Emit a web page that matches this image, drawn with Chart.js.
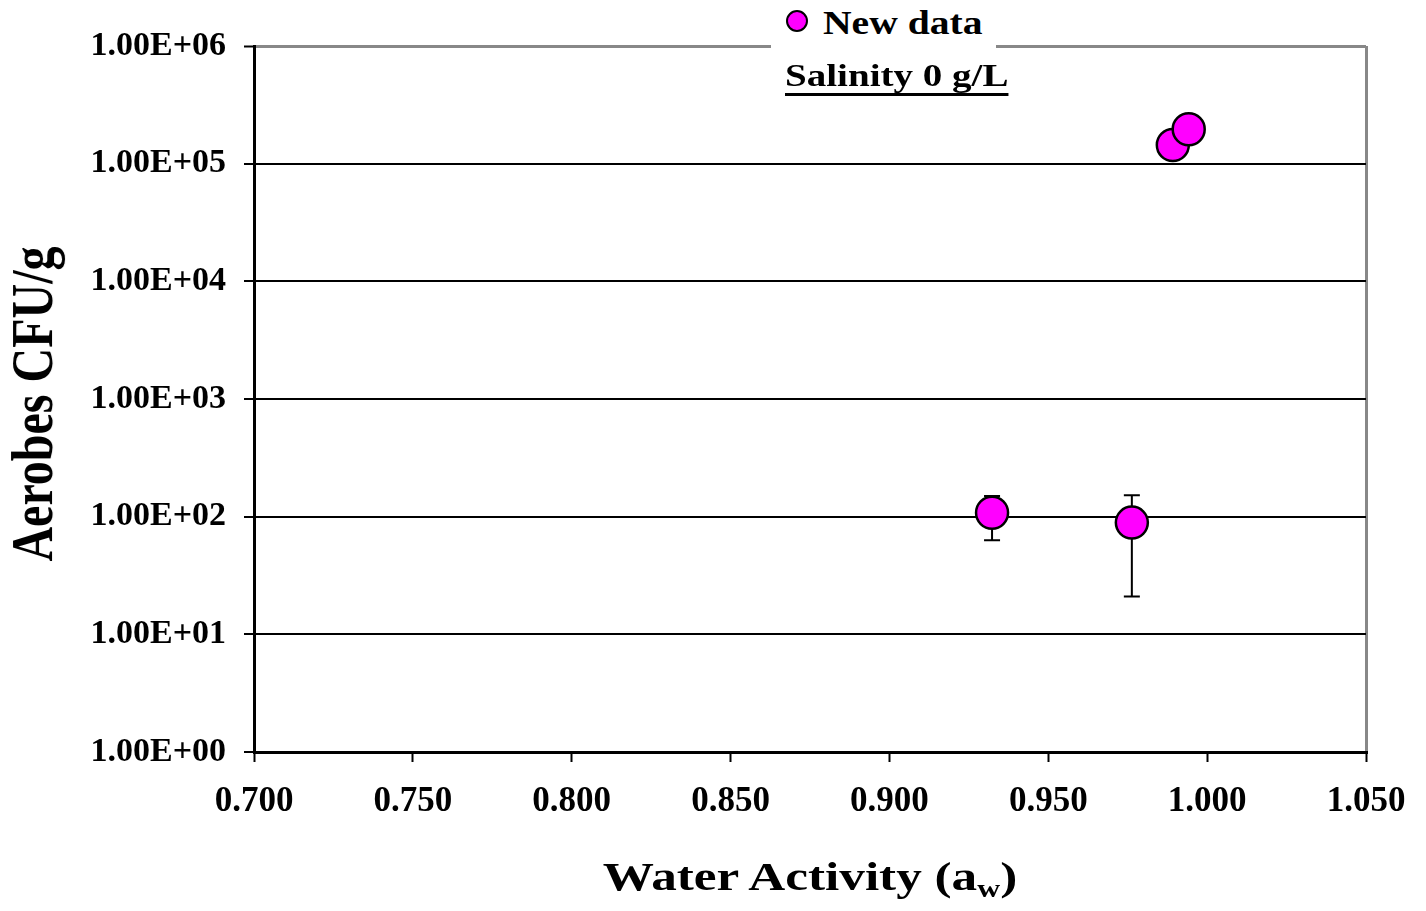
<!DOCTYPE html>
<html>
<head>
<meta charset="utf-8">
<script src="https://cdn.jsdelivr.net/npm/chart.js@4.4.1/dist/chart.umd.min.js"></script>
<style>
  body { margin: 0; background: #fff; }
  #wrap { position: relative; width: 1426px; height: 911px; }
  .lbl { position: absolute; font-family: "Liberation Serif", "Times New Roman", serif; font-weight: bold; color: #000; white-space: nowrap; }
</style>
</head>
<body>
<div id="wrap">
  <canvas id="chart"></canvas>

  <div class="lbl" style="left:-167px; top:380px; width:400px; height:48px; line-height:48px; font-size:48px; text-align:center; transform: rotate(-90deg) scaleY(1.22);">Aerobes CFU/g</div>

  <div class="lbl" style="left:310px; top:857px; width:1000px; height:40px; line-height:40px; font-size:40px; text-align:center; transform: scaleX(1.28);">Water Activity (a<sub style="font-size:0.62em; vertical-align:-0.3em; line-height:0;">w</sub>)</div>

  <div style="position:absolute; left:771px; top:0; width:225px; height:50px; background:#fff;"></div>
  <div style="position:absolute; left:786px; top:10px; width:18px; height:18px; border:2px solid #000; border-radius:50%; background:#ff00ff;"></div>
  <div class="lbl" style="left:823px; top:7px; font-size:33px; line-height:33px; transform: scaleX(1.2); transform-origin: left center;">New data</div>
  <div class="lbl" style="left:785px; top:59px; font-size:32px; line-height:32px; transform: scaleX(1.22); transform-origin: left center; text-decoration: underline; text-decoration-thickness: 3px; text-underline-offset: 7px;">Salinity 0 g/L</div>
</div>

<script>
// values
const waterActivity = [0.9323, 0.9763, 0.9892, 0.9942];
const aerobes = [108, 89, 144000, 196000];
const errLow = [63, 21, null, null];
const errHigh = [150, 152, null, null];

const xTickValues = [0.70, 0.75, 0.80, 0.85, 0.90, 0.95, 1.00, 1.05];
const yTickValues = [1, 10, 100, 1000, 10000, 100000, 1000000];
const yTickLabels = ['1.00E+00', '1.00E+01', '1.00E+02', '1.00E+03', '1.00E+04', '1.00E+05', '1.00E+06'];

const GRAY = '#888888';
const tickFont = { family: '"Liberation Serif", "Times New Roman", serif', weight: 'bold' };

const errorBars = {
  id: 'errorBars',
  beforeDatasetsDraw(chart) {
    const { ctx, scales: { x, y } } = chart;
    ctx.save();
    ctx.strokeStyle = '#000';
    ctx.lineWidth = 2;
    waterActivity.forEach((wa, i) => {
      if (errLow[i] == null) return;
      const px = x.getPixelForValue(wa);
      const top = y.getPixelForValue(errHigh[i]);
      const bot = y.getPixelForValue(errLow[i]);
      ctx.beginPath();
      ctx.moveTo(px, top); ctx.lineTo(px, bot);
      ctx.moveTo(px - 8, top); ctx.lineTo(px + 8, top);
      ctx.moveTo(px - 8, bot); ctx.lineTo(px + 8, bot);
      ctx.stroke();
    });
    ctx.restore();
  }
};

new Chart(document.getElementById('chart'), {
  type: 'scatter',
  data: {
    datasets: [{
      label: 'New data',
      data: waterActivity.map((wa, i) => ({ x: wa, y: aerobes[i] })),
      backgroundColor: '#ff00ff',
      borderColor: '#000',
      borderWidth: 2.5,
      pointRadius: 16,
      pointHoverRadius: 16
    }]
  },
  options: {
    responsive: true,
    maintainAspectRatio: false,
    animation: false,
    layout: { padding: { top: 46, right: 60, bottom: 0, left: 0 } },
    plugins: { legend: { display: false }, tooltip: { enabled: false } },
    scales: {
      x: {
        type: 'linear',
        min: 0.7,
        max: 1.05,
        afterBuildTicks: scale => { scale.ticks = xTickValues.map(v => ({ value: v })); },
        afterFit: scale => { scale.height = 159; },
        ticks: {
          color: '#000',
          font: { ...tickFont, size: 35 },
          padding: 19,
          maxRotation: 0,
          callback: v => Number(v).toFixed(3)
        },
        grid: {
          color: c => (c.tick && c.tick.value === 1.05 ? GRAY : 'rgba(0,0,0,0)'),
          lineWidth: 3,
          tickColor: '#000',
          tickWidth: 2,
          tickLength: 10
        },
        border: { color: '#000', width: 3 }
      },
      y: {
        type: 'logarithmic',
        min: 1,
        max: 1000000,
        afterBuildTicks: scale => { scale.ticks = yTickValues.map(v => ({ value: v })); },
        afterFit: scale => { scale.width = 254; },
        ticks: {
          color: '#000',
          font: { ...tickFont, size: 34 },
          padding: 18,
          callback: v => yTickLabels[yTickValues.indexOf(v)]
        },
        grid: {
          color: c => (c.tick && c.tick.value === 1000000 ? GRAY : '#000'),
          lineWidth: c => (c.tick && c.tick.value === 1000000 ? 3 : 2),
          tickColor: '#000',
          tickWidth: 2,
          tickLength: 10
        },
        border: { color: '#000', width: 3 }
      }
    }
  },
  plugins: [errorBars]
});
</script>
</body>
</html>
